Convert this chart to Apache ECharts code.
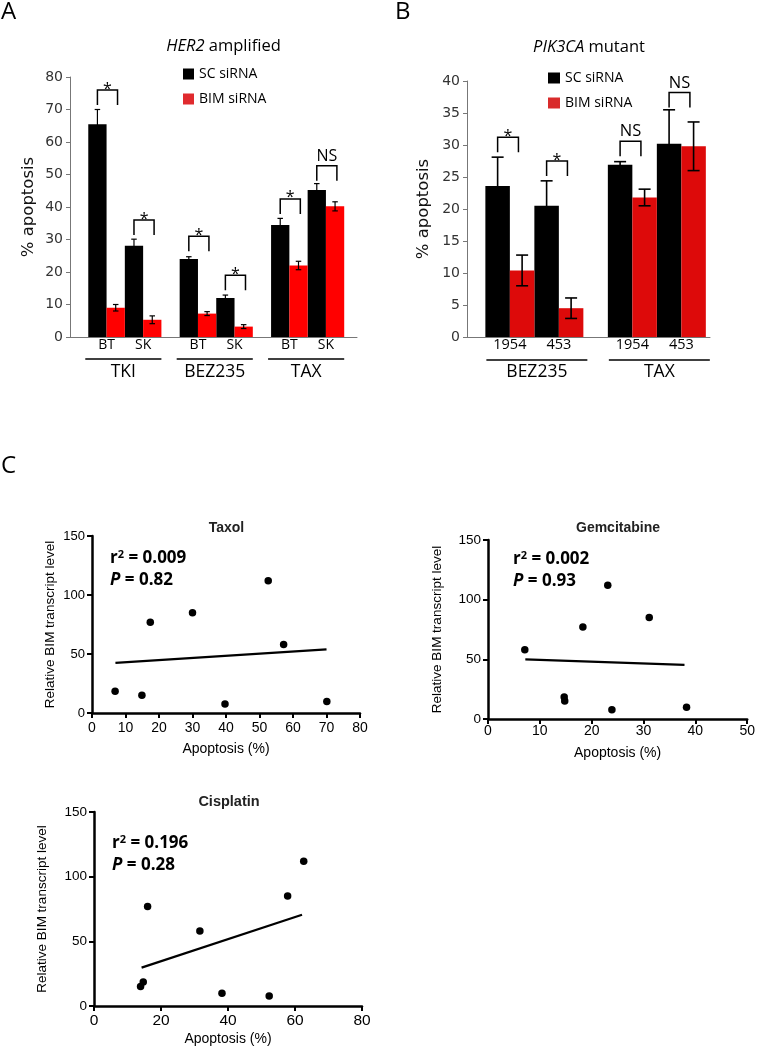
<!DOCTYPE html>
<html><head><meta charset="utf-8">
<script src="https://cdn.jsdelivr.net/npm/echarts@6/dist/echarts.min.js"></script>
<style>html,body{margin:0;padding:0;background:#fff}#c{width:758px;height:1050px}</style>
</head><body><div id="c"></div>
<script>
// ---------- Panel A : HER2 amplified ----------
const aGroups = ['TKI', 'BEZ235', 'TAX'];
const aCells = ['BT', 'SK'];
// order: TKI-BT, TKI-SK, BEZ235-BT, BEZ235-SK, TAX-BT, TAX-SK
const aSC = [65.5, 28.1, 24.0, 12.0, 34.5, 45.2];
const aSCErr = [4.5, 2.0, 0.7, 0.9, 2.0, 2.0];
const aBIM = [9.0, 5.3, 7.2, 3.2, 22.0, 40.2];
const aBIMErr = [1.0, 1.2, 0.6, 0.6, 1.3, 1.4];
const aSigText = ['*', '*', '*', '*', '*', 'NS'];
const aSigLevel = [76, 36, 31, 19, 42.5, 52.7];

// ---------- Panel B : PIK3CA mutant ----------
const bGroups = ['BEZ235', 'TAX'];
const bCells = ['1954', '453'];
// order: BEZ235-1954, BEZ235-453, TAX-1954, TAX-453
const bSC = [23.6, 20.5, 26.9, 30.2];
const bSCErr = [4.5, 3.9, 0.5, 5.3];
const bBIM = [10.4, 4.5, 21.8, 29.8];
const bBIMErr = [2.4, 1.6, 1.3, 3.8];
const bSigText = ['*', '*', 'NS', 'NS'];
const bSigLevel = [31.2, 27.5, 30.6, 38.2];

// ---------- Panel C : BIM level vs apoptosis ----------
const drugNames = ['Taxol', 'Gemcitabine', 'Cisplatin'];
const bimLevel = [18.5, 15, 77, 85, 112, 58, 7.7, 9.8];          // per cell line
const taxolApoptosis = [6.9, 14.9, 17.4, 30.0, 52.6, 57.2, 39.7, 70.1];
const gemApoptosis = [14.7, 14.8, 18.3, 31.1, 23.1, 7.1, 23.9, 38.3];
const cisApoptosis = [14.7, 13.9, 16.0, 57.8, 62.6, 31.6, 52.3, 38.2];
const taxolFit = [[7, 42.5], [70, 54]];
const gemFit = [[7.2, 50], [37.9, 45.4]];
const cisFit = [[14.2, 29.7], [62.1, 70.6]];
const r2Text = ['0.009', '0.002', '0.196'];
const pText = ['0.82', '0.93', '0.28'];

// ---------- helpers ----------
const OPEN = 'Open Sans';
const ARIAL = 'Liberation Sans';
// slot index for group g, cell k, series s (0 SC / 1 BIM)
function slot(g, k, s, nCells) { return 1 + g * (2 * nCells + 1) + 2 * k + s; }

function buildBars(groups, cells, sc, bim) {
  const scD = [], bimD = [], err = [], cellLab = [], grp = [];
  groups.forEach((g, gi) => {
    cells.forEach((c, ci) => {
      const i = gi * cells.length + ci;
      const x0 = slot(gi, ci, 0, cells.length) + 0.5;
      const x1 = slot(gi, ci, 1, cells.length) + 0.5;
      scD.push([x0, sc.v[i]]);
      bimD.push([x1, bim.v[i]]);
      err.push([x0, sc.v[i] - sc.e[i], sc.v[i] + sc.e[i]]);
      err.push([x1, bim.v[i] - bim.e[i], bim.v[i] + bim.e[i]]);
      cellLab.push([x0 + 0.5, 0]);
    });
    grp.push([slot(gi, 0, 0, cells.length), slot(gi, cells.length - 1, 1, cells.length) + 1, 0]);
  });
  return { scD, bimD, err, cellLab, grp };
}
const A = buildBars(aGroups, aCells, { v: aSC, e: aSCErr }, { v: aBIM, e: aBIMErr });
const B = buildBars(bGroups, bCells, { v: bSC, e: bSCErr }, { v: bBIM, e: bBIMErr });
const aSig = A.scD.map((d, i) => [d[0], aSigLevel[i]]);
const bSig = B.scD.map((d, i) => [d[0], bSigLevel[i]]);

function errRender(capW, lw) {
  return function (params, api) {
    const x = api.value(0);
    const p1 = api.coord([x, api.value(1)]), p2 = api.coord([x, api.value(2)]);
    const st = { stroke: '#000', lineWidth: lw };
    return { type: 'group', children: [
      { type: 'line', shape: { x1: p1[0], y1: p1[1], x2: p2[0], y2: p2[1] }, style: st },
      { type: 'line', shape: { x1: p1[0] - capW / 2, y1: p1[1], x2: p1[0] + capW / 2, y2: p1[1] }, style: st },
      { type: 'line', shape: { x1: p2[0] - capW / 2, y1: p2[1], x2: p2[0] + capW / 2, y2: p2[1] }, style: st }
    ] };
  };
}
function sigRender(texts, widthSlots, leg, starSize, nsSize) {
  return function (params, api) {
    const x = api.value(0), y = api.value(1);
    const pL = api.coord([x, y]), pR = api.coord([x + widthSlots, y]);
    const t = texts[params.dataIndex];
    const isStar = t === '*';
    return { type: 'group', children: [
      { type: 'polyline', shape: { points: [[pL[0], pL[1] + leg], [pL[0], pL[1]], [pR[0], pL[1]], [pR[0], pL[1] + leg]] },
        style: { stroke: '#000', lineWidth: 1.5, fill: null } },
      { type: 'text', x: (pL[0] + pR[0]) / 2, y: isStar ? pL[1] - 1 : pL[1] - 1,
        style: { text: t, align: 'center', verticalAlign: isStar ? 'middle' : 'bottom',
          fontFamily: OPEN, fontSize: isStar ? starSize : nsSize, fill: '#000' } }
    ] };
  };
}
function cellRender(labels, off, size) {
  return function (params, api) {
    const p = api.coord([api.value(0), 0]);
    return { type: 'text', x: p[0], y: p[1] + off,
      style: { text: labels[params.dataIndex % labels.length], align: 'center', verticalAlign: 'middle',
        fontFamily: OPEN, fontSize: size, fill: '#000' } };
  };
}
function groupRender(labels, lineOff, textOff, size, padL, padR) {
  return function (params, api) {
    const p1 = api.coord([api.value(0), 0]), p2 = api.coord([api.value(1), 0]);
    return { type: 'group', children: [
      { type: 'line', shape: { x1: p1[0] + padL, y1: p1[1] + lineOff, x2: p2[0] + padR, y2: p1[1] + lineOff },
        style: { stroke: '#000', lineWidth: 1.3 } },
      { type: 'text', x: (p1[0] + p2[0] + padL + padR) / 2, y: p1[1] + textOff,
        style: { text: labels[params.dataIndex], align: 'center', verticalAlign: 'middle',
          fontFamily: OPEN, fontSize: size, fill: '#000' } }
    ] };
  };
}

// ---------- axes ----------
function barXAxis(gi, min, max) {
  return { type: 'value', gridIndex: gi, min: min, max: max,
    axisLine: { show: true, onZero: false, lineStyle: { color: '#777', width: 1 } },
    axisTick: { show: false }, axisLabel: { show: false }, splitLine: { show: false } };
}
function barYAxis(gi, max, interval, gap) {
  return { type: 'value', gridIndex: gi, min: 0, max: max, interval: interval,
    name: '% apoptosis', nameLocation: 'middle', nameGap: gap,
    nameTextStyle: { fontFamily: 'DejaVu Sans', fontSize: 16.5, color: '#111' },
    axisLine: { show: true, lineStyle: { color: '#777', width: 1 } },
    axisTick: { show: true, length: 4, lineStyle: { color: '#777' } },
    axisLabel: { fontFamily: 'DejaVu Sans', fontSize: 14, color: '#333', margin: 7 },
    splitLine: { show: false } };
}
function scX(gi, max, interval, gap, fs, margin) {
  return { type: 'value', gridIndex: gi, min: 0, max: max, interval: interval,
    name: 'Apoptosis (%)', nameLocation: 'middle', nameGap: gap,
    nameTextStyle: { fontFamily: ARIAL, fontSize: 14, color: '#000' },
    axisLine: { show: true, onZero: false, lineStyle: { color: '#000', width: 2.5 } },
    axisTick: { show: true, length: 5, lineStyle: { color: '#000', width: 2 } },
    axisLabel: { fontFamily: ARIAL, fontSize: fs, color: '#000', margin: margin },
    splitLine: { show: false } };
}
function scY(gi, gap, fs) {
  return { type: 'value', gridIndex: gi, min: 0, max: 150, interval: 50,
    name: 'Relative BIM transcript level', nameLocation: 'middle', nameGap: gap,
    nameTextStyle: { fontFamily: ARIAL, fontSize: 13.5, color: '#000' },
    axisLine: { show: true, onZero: false, lineStyle: { color: '#000', width: 2.5 } },
    axisTick: { show: true, length: 5, lineStyle: { color: '#000', width: 2 } },
    axisLabel: { fontFamily: ARIAL, fontSize: fs, color: '#000', margin: 7 },
    splitLine: { show: false } };
}

function scatterSeries(gi, xs) {
  return { type: 'scatter', xAxisIndex: gi, yAxisIndex: gi, symbolSize: 7.5,
    itemStyle: { color: '#000', opacity: 1 }, data: xs.map((x, i) => [x, bimLevel[i]]), z: 4 };
}
function fitSeries(gi, fit) {
  return { type: 'line', xAxisIndex: gi, yAxisIndex: gi, showSymbol: false, symbol: 'none',
    lineStyle: { color: '#000', width: 2.2 }, data: fit, z: 3 };
}

function txt(x, y, text, size, opts) {
  return Object.assign({ type: 'text', x: x, y: y,
    style: Object.assign({ text: text, fontFamily: OPEN, fontSize: size, fill: '#000',
      align: 'left', verticalAlign: 'middle' }, (opts || {})) });
}
function statText(x, y, i) {
  return [
    { type: 'text', x: x, y: y, style: { text: '{b|r}{s|2}{b| = ' + r2Text[i] + '}', align: 'left', verticalAlign: 'middle',
      rich: { b: { fontFamily: OPEN, fontSize: 17, fontWeight: 'bold', fill: '#000' },
              s: { fontFamily: OPEN, fontSize: 11, fontWeight: 'bold', fill: '#000', verticalAlign: 'top', padding: [0, 0, 6, 0] } } } },
    { type: 'text', x: x, y: y + 22, style: { text: '{i|P}{b| = ' + pText[i] + '}', align: 'left', verticalAlign: 'middle',
      rich: { i: { fontFamily: OPEN, fontSize: 17, fontWeight: 'bold', fontStyle: 'italic', fill: '#000' },
              b: { fontFamily: OPEN, fontSize: 17, fontWeight: 'bold', fill: '#000' } } } }
  ];
}

const legendStyle = { fontFamily: OPEN, fontSize: 14, color: '#000' };
const option = {
  backgroundColor: '#fff',
  animation: false,
  grid: [
    { left: 70, top: 77, width: 287, height: 260 },
    { left: 467, top: 81, width: 243, height: 256 },
    { left: 92, top: 536, width: 268, height: 177 },
    { left: 488, top: 540, width: 261, height: 179 },
    { left: 94, top: 812, width: 268, height: 194 }
  ],
  xAxis: [
    barXAxis(0, 0, 15.7),
    barXAxis(1, 0.25, 10.17),
    scX(2, 80, 10, 29, 14, 8),
    scX(3, 50, 10, 27, 14, 5),
    scX(4, 80, 20, 26, 15.5, 7)
  ],
  yAxis: [
    barYAxis(0, 80, 10, 33),
    barYAxis(1, 40, 5, 35),
    scY(2, 35, 13),
    scY(3, 44, 13.5),
    scY(4, 45, 13.5)
  ],
  legend: [
    { left: 183, top: 67, orient: 'vertical', padding: 0, itemWidth: 11, itemHeight: 11, itemGap: 11,
      selectedMode: false, icon: 'rect', textStyle: legendStyle,
      data: [{ name: 'SC siRNA', itemStyle: { color: '#000' } }, { name: 'BIM siRNA', itemStyle: { color: '#e02a2e' } }] },
    { left: 548, top: 71, orient: 'vertical', padding: 0, itemWidth: 12, itemHeight: 11, itemGap: 11,
      selectedMode: false, icon: 'rect', textStyle: legendStyle,
      data: [{ name: 'SC siRNA', itemStyle: { color: '#000' } }, { name: 'BIM siRNA', itemStyle: { color: '#d92b2b' } }] }
  ],
  series: [
    // Panel A
    { name: 'SC siRNA', type: 'bar', xAxisIndex: 0, yAxisIndex: 0, data: A.scD, barWidth: 18.3, barGap: '-100%', itemStyle: { color: '#000' }, z: 2 },
    { name: 'BIM siRNA', type: 'bar', xAxisIndex: 0, yAxisIndex: 0, data: A.bimD, barWidth: 18.3, barGap: '-100%', itemStyle: { color: '#ff0000' }, z: 2 },
    { type: 'custom', xAxisIndex: 0, yAxisIndex: 0, data: A.err, encode: { x: 0, y: [1, 2] }, renderItem: errRender(5.5, 1.2), z: 3 },
    { type: 'custom', xAxisIndex: 0, yAxisIndex: 0, data: aSig, encode: { x: 0, y: 1 }, renderItem: sigRender(aSigText, 1.1, 15, 16, 16), z: 3 },
    { type: 'custom', xAxisIndex: 0, yAxisIndex: 0, data: A.cellLab, encode: { x: 0, y: 1 }, renderItem: cellRender(aCells, 8, 14), z: 3 },
    { type: 'custom', xAxisIndex: 0, yAxisIndex: 0, data: A.grp, encode: { x: [0, 1], y: 2 }, renderItem: groupRender(aGroups, 22, 35, 17.5, -3, 0), z: 3 },
    // Panel B
    { name: 'SC siRNA', type: 'bar', xAxisIndex: 1, yAxisIndex: 1, data: B.scD, barWidth: 24.5, barGap: '-100%', itemStyle: { color: '#000' }, z: 2 },
    { name: 'BIM siRNA', type: 'bar', xAxisIndex: 1, yAxisIndex: 1, data: B.bimD, barWidth: 24.5, barGap: '-100%', itemStyle: { color: '#dd0a0a' }, z: 2 },
    { type: 'custom', xAxisIndex: 1, yAxisIndex: 1, data: B.err, encode: { x: 0, y: [1, 2] }, renderItem: errRender(12, 1.6), z: 3 },
    { type: 'custom', xAxisIndex: 1, yAxisIndex: 1, data: bSig, encode: { x: 0, y: 1 }, renderItem: sigRender(bSigText, 0.85, 15, 16, 16.5), z: 3 },
    { type: 'custom', xAxisIndex: 1, yAxisIndex: 1, data: B.cellLab, encode: { x: 0, y: 1 }, renderItem: cellRender(bCells, 8, 14.5), z: 3 },
    { type: 'custom', xAxisIndex: 1, yAxisIndex: 1, data: B.grp, encode: { x: [0, 1], y: 2 }, renderItem: groupRender(bGroups, 23, 35, 17.5, 1, 4), z: 3 },
    // Panel C
    scatterSeries(2, taxolApoptosis), fitSeries(2, taxolFit),
    scatterSeries(3, gemApoptosis), fitSeries(3, gemFit),
    scatterSeries(4, cisApoptosis), fitSeries(4, cisFit)
  ],
  graphic: [
    txt(1, 12, 'A', 24),
    txt(395, 12, 'B', 24),
    txt(1, 466, 'C', 24),
    { type: 'text', x: 223.5, y: 46, style: { text: '{i|HER2}{n| amplified}', align: 'center', verticalAlign: 'middle',
      rich: { i: { fontFamily: OPEN, fontSize: 16.5, fontStyle: 'italic', fill: '#000' }, n: { fontFamily: OPEN, fontSize: 16.5, fill: '#000' } } } },
    { type: 'text', x: 589, y: 47, style: { text: '{i|PIK3CA}{n| mutant}', align: 'center', verticalAlign: 'middle',
      rich: { i: { fontFamily: OPEN, fontSize: 16.5, fontStyle: 'italic', fill: '#000' }, n: { fontFamily: OPEN, fontSize: 16.5, fill: '#000' } } } },
    txt(226.5, 528, drugNames[0], 14, { fontFamily: ARIAL, fontWeight: 'bold', align: 'center', fill: '#222' }),
    txt(618, 528, drugNames[1], 14, { fontFamily: ARIAL, fontWeight: 'bold', align: 'center', fill: '#222' }),
    txt(229, 802, drugNames[2], 14.5, { fontFamily: ARIAL, fontWeight: 'bold', align: 'center', fill: '#222' })
  ].concat(statText(110, 558, 0), statText(513, 559, 1), statText(112, 843, 2))
};

const chart = echarts.init(document.getElementById('c'), null, { renderer: 'canvas' });
chart.setOption(option);
</script>
</body></html>
